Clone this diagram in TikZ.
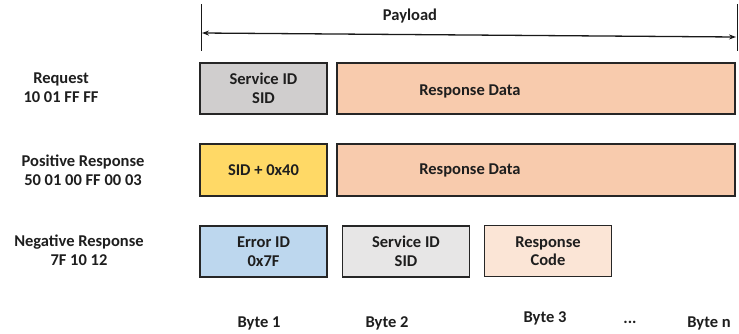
\documentclass[tikz,border=0pt]{standalone}
\usepackage{fontspec}
\setmainfont{Carlito}
\usetikzlibrary{arrows.meta}
\definecolor{txt}{HTML}{1E1E1E}
\definecolor{sidgray}{HTML}{D0CECE}
\definecolor{lightgray}{HTML}{E7E6E6}
\definecolor{datapeach}{HTML}{F8CBAD}
\definecolor{codepeach}{HTML}{FBE5D6}
\definecolor{sidyellow}{HTML}{FFD966}
\definecolor{errblue}{HTML}{BDD7EE}
\tikzset{
  lbl/.style={text=txt, font=\bfseries\fontsize{16.5}{18.5}\selectfont, align=center, inner sep=0pt},
  field/.style={draw=black!85, line width=1.4pt, lbl, minimum height=51pt},
  bytebox/.style={field, minimum width=127pt},
  databox/.style={field, minimum width=398pt},
  dim/.style={line width=1.3pt, black!90},
}
\begin{document}
\begin{tikzpicture}[x=1pt,y=-1pt]
\useasboundingbox (0,0) rectangle (739,333);

% payload span
\coordinate (t1a) at (201,4);  \coordinate (t1b) at (201,51);
\coordinate (t2a) at (737,4);  \coordinate (t2b) at (737,51);
\coordinate (pl) at (202,33);  \coordinate (pr) at (736,37);
\draw[dim, line width=0.9pt] (t1a) -- (t1b);
\draw[dim, line width=0.9pt] (t2a) -- (t2b);
\draw[dim, {Stealth[length=7pt,width=5pt]}-{Stealth[length=7pt,width=5pt]}] (pl) -- (pr);
\node[lbl] (payload) at (410,16) {Payload};

% row labels
\node[lbl] (req) at (61,87.5) {Request\\10 01 FF FF};
\node[lbl] (pos) at (83,170) {Positive Response\\50 01 00 FF 00 03};
\node[lbl] (neg) at (79,250) {Negative Response\\7F 10 12};

% request
\node[bytebox, fill=sidgray] (rsid) at (263.5,88.5) {Service ID\\SID};
\node[databox, fill=datapeach] (rdata) at (536,88.5) {};
\node[lbl] (rdatat) at (470,91) {Response Data};

% positive response
\node[bytebox, fill=sidyellow, minimum height=52pt] (psid) at (263.5,170) {SID + 0x40};
\node[databox, fill=datapeach, minimum height=52pt] (pdata) at (536,170) {};
\node[lbl] (pdatat) at (470,170) {Response Data};

% negative response
\node[bytebox, fill=errblue] (nerr) at (263.5,251.5) {Error ID\\0x7F};
\node[bytebox, fill=lightgray] (nsid) at (406,251.5) {Service ID\\SID};
\node[bytebox, fill=codepeach] (ncode) at (548,251) {Response\\Code};

% byte positions
\node[lbl] (b1) at (259,323) {Byte 1};
\node[lbl] (b2) at (387,323) {Byte 2};
\node[lbl] (b3) at (545,318) {Byte 3};
\node[lbl] (bdots) at (630,322) {...};
\node[lbl] (bn) at (709,323) {Byte n};
\end{tikzpicture}
\end{document}
